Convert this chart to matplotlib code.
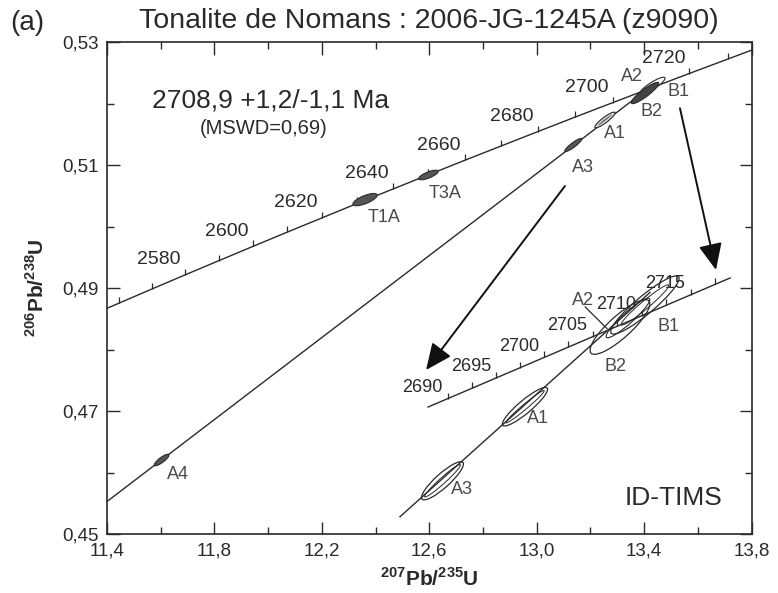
import matplotlib.pyplot as plt
import matplotlib.transforms as mtransforms
from matplotlib.patches import Ellipse

plt.rcParams['font.family'] = ['Liberation Sans', 'DejaVu Sans']
plt.rcParams['mathtext.fontset'] = 'custom'
plt.rcParams['mathtext.rm'] = 'Liberation Sans'
plt.rcParams['mathtext.bf'] = 'Liberation Sans:bold'

INK = '#2a2a2a'
GREY = '#4a4a4a'

# --- concordia (main), ages in Ma with their 207Pb/235U and 206Pb/238U ratios
conc_ages = [2550, 2560, 2570, 2580, 2590, 2600, 2610, 2620, 2630, 2640,
             2650, 2660, 2670, 2680, 2690, 2700, 2710, 2720, 2730, 2740]
conc_x = [11.3218, 11.4437, 11.5669, 11.6913, 11.8169, 11.9437, 12.0718, 12.2012,
          12.3318, 12.4638, 12.5971, 12.7316, 12.8675, 13.0048, 13.1434, 13.2834,
          13.4247, 13.5675, 13.7117, 13.8573]
conc_y = [0.48523, 0.48753, 0.48984, 0.49216, 0.49447, 0.49679, 0.49912, 0.50144,
          0.50378, 0.50611, 0.50845, 0.51079, 0.51313, 0.51548, 0.51784, 0.52019,
          0.52255, 0.52492, 0.52728, 0.52966]
conc_labels = [2580, 2600, 2620, 2640, 2660, 2680, 2700, 2720]

# --- discordia (main)
disc_x = [11.40, 13.43]
disc_y = [0.45526, 0.52300]

# --- analyses on the main diagram
spot_names = ['A4', 'A3', 'A1', 'A2', 'T1A', 'T3A']
spot_x = [11.604, 13.136, 13.254, 13.403, 12.361, 12.597]
spot_y = [0.46204, 0.51329, 0.51736, 0.52175, 0.50440, 0.50841]
b1_x, b1_y = 13.430, 0.52290

lab_names = ['A4', 'A3', 'A1', 'A2', 'B1', 'B2', 'T1A', 'T3A']
lab_x = [11.663, 13.172, 13.290, 13.354, 13.526, 13.428, 12.431, 12.658]
lab_y = [0.45960, 0.50955, 0.51508, 0.52436, 0.52192, 0.51866, 0.50142, 0.50532]

# --- ID-TIMS enlargement (inset drawn inside the same axes)
inset_line_x = [12.5957, 13.7195]
inset_line_y = [0.47066, 0.49165]
inset_ages = [2690, 2692.5, 2695, 2697.5, 2700, 2702.5, 2705, 2707.5, 2710, 2712.5,
              2715, 2717.5]
inset_tx = [12.6697, 12.7609, 12.8502, 12.9395, 13.0288, 13.1181, 13.2093, 13.3004,
            13.3916, 13.4828, 13.5739, 13.6633]
inset_ty = [0.47204, 0.47375, 0.47541, 0.47708, 0.47875, 0.48042, 0.48212, 0.48382,
            0.48553, 0.48723, 0.48893, 0.49060]
inset_labels = [2690, 2695, 2700, 2705, 2710, 2715]

inset_disc_x = [12.4911, 13.4214]
inset_disc_y = [0.45281, 0.48930]

inset_names = ['A3', 'A1', 'B2', 'A2', 'B1']
inset_x = [12.6492, 12.9562, 13.3097, 13.3395, 13.4027]
inset_y = [0.45866, 0.47071, 0.48368, 0.48515, 0.48726]
inset_lab_x = [12.7235, 13.0048, 13.2949, 13.1702, 13.4894]
inset_lab_y = [0.45716, 0.46883, 0.47722, 0.48794, 0.48384]
a2_leader_x = [13.1804, 13.2612]
a2_leader_y = [0.48694, 0.48343]

# --- arrows (start -> end)
arrow_start = [(13.533, 0.51927), (13.105, 0.50662)]
arrow_end = [(13.667, 0.49296), (12.588, 0.47668)]

x_ticks = [11.4, 11.8, 12.2, 12.6, 13.0, 13.4, 13.8]
x_tick_labels = ['11,4', '11,8', '12,2', '12,6', '13,0', '13,4', '13,8']
x_minor = [11.6, 12.0, 12.4, 12.8, 13.2, 13.6]
y_ticks = [0.45, 0.47, 0.49, 0.51, 0.53]
y_tick_labels = ['0,45', '0,47', '0,49', '0,51', '0,53']
y_minor = [0.46, 0.48, 0.50, 0.52]

fig = plt.figure(figsize=(7.78, 5.93), dpi=100)
ax = fig.add_axes([0.1373, 0.0995, 0.8289, 0.8292])
ax.set_xlim(11.4, 13.8)
ax.set_ylim(0.45, 0.53)


def ellipse(x, y, length_px, width_px, angle, **kw):
    # ellipse sized in pixels, centred on a data point
    trans = fig.dpi_scale_trans + mtransforms.ScaledTranslation(x, y, ax.transData)
    e = Ellipse((0, 0), length_px / 100, width_px / 100, angle=angle,
                transform=trans, **kw)
    ax.add_patch(e)
    return e


# concordia + age ticks
ax.plot(conc_x, conc_y, color=INK, lw=1.0, zorder=2)
ax.plot(conc_x, conc_y, ls='none', marker=2, ms=4.5, mew=0.9, color=INK, zorder=2)
for age, x, y in zip(conc_ages, conc_x, conc_y):
    if age in conc_labels:
        ax.annotate(str(age), (x, y), xytext=(-3, 11), textcoords='offset points',
                    ha='right', va='center', fontsize=14, color=INK)

# discordia
ax.plot(disc_x, disc_y, color=INK, lw=1.0, zorder=2)

# main spots
ellipse(spot_x[0], spot_y[0], 18, 5, 37, fc='#555555', ec=INK, lw=0.8, zorder=3)
ellipse(spot_x[1], spot_y[1], 21, 4.5, 37, fc='#555555', ec=INK, lw=0.8, zorder=3)
ellipse(spot_x[2], spot_y[2], 25, 5.5, 37, fc='#dddddd', ec=INK, lw=0.8, zorder=3)
ellipse(spot_x[2], spot_y[2], 18, 1.5, 37, fc='#666666', ec='none', zorder=3)
ellipse(b1_x, b1_y, 30, 7, 33, fc='white', ec=INK, lw=0.8, zorder=3)
ellipse(spot_x[3], spot_y[3], 34, 7.5, 37, fc='#444444', ec=INK, lw=0.8, zorder=4)
ellipse(spot_x[4], spot_y[4], 26, 8, 22, fc='#555555', ec=INK, lw=0.8, zorder=3)
ellipse(spot_x[5], spot_y[5], 21, 6, 22, fc='#555555', ec=INK, lw=0.8, zorder=3)

for name, x, y in zip(lab_names, lab_x, lab_y):
    ax.text(x, y, name, ha='center', va='center', fontsize=13, color=GREY)

# ID-TIMS enlargement
ax.plot(inset_line_x, inset_line_y, color=INK, lw=1.0, zorder=2)
ax.plot(inset_tx, inset_ty, ls='none', marker=2, ms=4, mew=0.9, color=INK, zorder=2)
for age, x, y in zip(inset_ages, inset_tx, inset_ty):
    if age in inset_labels:
        ax.annotate(str(age), (x, y), xytext=(-4, 8), textcoords='offset points',
                    ha='right', va='center', fontsize=13, color=INK)
ax.plot(inset_disc_x, inset_disc_y, color=INK, lw=1.0, zorder=2)

ellipse(inset_x[0], inset_y[0], 55, 14, 42, fc='none', ec=INK, lw=0.9, zorder=3)
ellipse(inset_x[0], inset_y[0], 48, 6, 42, fc='none', ec=INK, lw=0.7, zorder=3)
ellipse(inset_x[1], inset_y[1], 58, 13, 40, fc='none', ec=INK, lw=0.9, zorder=3)
ellipse(inset_x[1], inset_y[1], 50, 5, 40, fc='none', ec=INK, lw=0.7, zorder=3)
ellipse(inset_x[2], inset_y[2], 78, 22, 42, fc='none', ec=INK, lw=0.9, zorder=3)
ellipse(inset_x[3], inset_y[3], 58, 11, 42, fc='none', ec=INK, lw=0.8, zorder=3)
ellipse(inset_x[4], inset_y[4], 88, 18, 40, fc='none', ec=INK, lw=0.9, zorder=3)
ellipse(inset_x[4], inset_y[4], 62, 8, 40, fc='none', ec=INK, lw=0.7, zorder=3)
ax.plot(a2_leader_x, a2_leader_y, color=INK, lw=0.9)

for name, x, y in zip(inset_names, inset_lab_x, inset_lab_y):
    ax.text(x, y, name, ha='center', va='center', fontsize=13, color=GREY)

# arrows
for s, e in zip(arrow_start, arrow_end):
    ax.annotate('', xy=e, xytext=s,
                arrowprops=dict(arrowstyle='-|>,head_length=0.9,head_width=0.4',
                                color='#111111', lw=1.4, shrinkA=0, shrinkB=0,
                                mutation_scale=18))

# annotations
ax.text(12.009, 0.52045, '2708,9 +1,2/-1,1 Ma', ha='center', va='center',
        fontsize=19, color=INK)
ax.text(11.985, 0.51598, '(MSWD=0,69)', ha='center', va='center',
        fontsize=14.5, color=INK)
ax.text(13.508, 0.45586, 'ID-TIMS', ha='center', va='center', fontsize=19, color=INK)

# axes styling
ax.set_xticks(x_ticks)
ax.set_xticklabels(x_tick_labels)
ax.set_xticks(x_minor, minor=True)
ax.set_yticks(y_ticks)
ax.set_yticklabels(y_tick_labels)
ax.set_yticks(y_minor, minor=True)
ax.tick_params(which='both', direction='in', top=True, right=True, color=INK,
               width=1.0, labelsize=13.5, labelcolor=INK)
ax.tick_params(which='major', length=9, pad=6)
ax.tick_params(which='minor', length=5)
for sp in ax.spines.values():
    sp.set_color(INK)
    sp.set_linewidth(1.2)

ax.set_xlabel(r'$^{\mathbf{207}}\mathbf{Pb/}^{\mathbf{235}}\mathbf{U}$',
              fontsize=15, color=INK, labelpad=6)
ax.set_ylabel(r'$^{\mathbf{206}}\mathbf{Pb/}^{\mathbf{238}}\mathbf{U}$',
              fontsize=15, color=INK, labelpad=10)
ax.set_title('Tonalite de Nomans : 2006-JG-1245A (z9090)', fontsize=20.5,
             color=INK, pad=10)
fig.text(0.035, 0.962, '(a)', ha='center', va='center', fontsize=20, color=INK)

fig.savefig('out.png', dpi=100)
